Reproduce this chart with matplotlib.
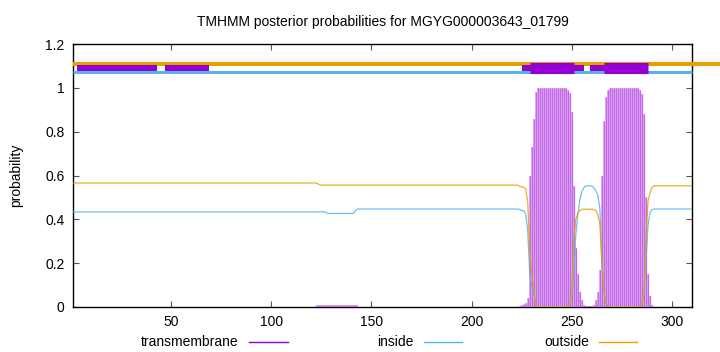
import matplotlib
matplotlib.use("Agg")
import matplotlib.pyplot as plt
from matplotlib.lines import Line2D
import numpy as np

plt.rcParams['font.family'] = ['Liberation Sans', 'DejaVu Sans']

title = "TMHMM posterior probabilities for MGYG000003643_01799"
seq_len = 310

# ---- per-residue posterior probabilities ----
tm_prob = ([0.0] * 122 + [0.01] * 21 + [0.0] * 80 +
           [0.005, 0.01, 0.015, 0.02, 0.04, 0.60, 0.73, 0.86, 0.98] +      # 224-232
           [0.999] * 14 +                                                 # 233-246
           [0.997, 0.99, 0.975, 0.89, 0.55, 0.27, 0.15, 0.07, 0.03, 0.01] + # 247-256
           [0.003] * 4 +                                                  # 257-260
           [0.01, 0.03, 0.07, 0.17, 0.60, 0.85, 0.96, 0.99] +               # 261-268
           [0.999] * 15 +                                                 # 269-283
           [0.99, 0.97, 0.88, 0.50, 0.15, 0.05, 0.01] +                     # 284-290
           [0.0] * 20)
inside_prob = ([0.434] * 127 + [0.427] * 14 + [0.44] + [0.447] * 81 +
               [0.445, 0.44, 0.44, 0.42, 0.35, 0.15, 0.10, 0.06, 0.008] +
               [0.001] * 14 +
               [0.002, 0.005, 0.01, 0.04, 0.15, 0.33, 0.42, 0.49, 0.525, 0.544] +
               [0.553] * 4 +
               [0.545, 0.53, 0.51, 0.45, 0.20, 0.07, 0.02, 0.005] +
               [0.001] * 15 +
               [0.005, 0.015, 0.05, 0.20, 0.37, 0.43, 0.445] +
               [0.447] * 20)
outside_prob = ([0.566] * 122 + [0.563, 0.559] + [0.556] * 99 +
                [0.55, 0.55, 0.545, 0.54, 0.48, 0.25, 0.15, 0.08, 0.012] +
                [0.001] * 14 +
                [0.002, 0.005, 0.015, 0.07, 0.30, 0.40, 0.43, 0.44, 0.445, 0.446] +
                [0.446] * 4 +
                [0.445, 0.44, 0.42, 0.38, 0.20, 0.08, 0.02, 0.005] +
                [0.001] * 15 +
                [0.005, 0.015, 0.07, 0.30, 0.48, 0.52, 0.545] +
                [0.553] * 20)

# ---- topology bars along the top ----
outside_bar = (1, 324)
inside_bar = (1, 310)
tm_thin_segments = [(3, 43), (47, 69), (225, 256), (259, 288)]
tm_segments = [(229, 251), (266, 288)]

x_ticks = [50, 100, 150, 200, 250, 300]
y_ticks = [0, 0.2, 0.4, 0.6, 0.8, 1.0, 1.2]
y_tick_labels = ["0", "0.2", "0.4", "0.6", "0.8", "1", "1.2"]
legend_labels = ["transmembrane", "inside", "outside"]

c_tm = "#9400d3"
c_in = "#56b4e9"
c_out = "#e69f00"

pos = np.arange(1, seq_len + 1)

fig = plt.figure(figsize=(7.2, 3.52), dpi=100)
ax = fig.add_axes([73 / 720, 1 - 307 / 352, (692 - 73) / 720, (307 - 44) / 352])

# TM probability as impulses
ax.bar(pos, tm_prob, width=1.0, color="#e6b0f4", linewidth=0, zorder=2)
ax.vlines(pos, 0, tm_prob, color="#c068e6", linewidth=0.9, zorder=3)

ax.plot(pos, inside_prob, color=c_in, lw=0.9, alpha=0.85, zorder=4)
ax.plot(pos, outside_prob, color=c_out, lw=0.9, alpha=0.85, zorder=4)

# top topology lines
ax.plot(outside_bar, [1.11, 1.11], color=c_out, lw=2.9, solid_capstyle='butt',
        clip_on=False, zorder=5)
ax.plot(inside_bar, [1.07, 1.07], color=c_in, lw=2.2, solid_capstyle='butt',
        clip_on=False, zorder=5)
for a, b in tm_thin_segments:
    ax.plot([a, b], [1.09, 1.09], color=c_tm, lw=4.3, solid_capstyle='butt', zorder=6)
for a, b in tm_segments:
    ax.plot([a, b], [1.09, 1.09], color=c_tm, lw=8.0, solid_capstyle='butt', zorder=7)

ax.set_xlim(1, seq_len)
ax.set_ylim(0, 1.2)
ax.set_xticks(x_ticks)
ax.set_yticks(y_ticks)
ax.set_yticklabels(y_tick_labels)
ax.tick_params(direction='in', length=4, width=0.8, labelsize=10, color='#555555',
               top=True, right=True, pad=6)
for s in ax.spines.values():
    s.set_linewidth(1.0)
ax.set_ylabel("probability", fontsize=10, labelpad=16)
ax.set_title(title, fontsize=10, pad=13)

# gnuplot-style key below the plot: text right aligned, then the sample line
text_right = [238, 414, 589]
line_spans = [(249, 288), (424, 462), (599, 637)]
colors = [c_tm, c_in, c_out]
ky = 1 - 342 / 352
for lab, tx, (l0, l1), c in zip(legend_labels, text_right, line_spans, colors):
    fig.text(tx / 720, ky, lab, ha='right', va='center', fontsize=10)
    fig.add_artist(Line2D([l0 / 720, l1 / 720], [ky, ky], color=c, lw=1.0,
                          transform=fig.transFigure))

fig.savefig("out.png", dpi=100)
